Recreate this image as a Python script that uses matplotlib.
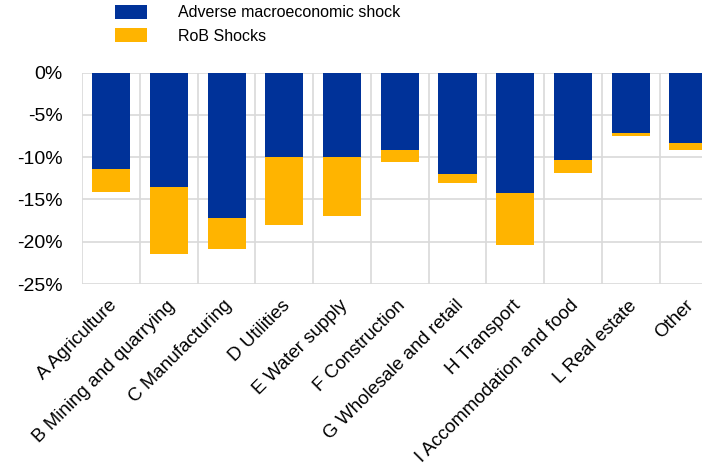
import matplotlib
matplotlib.use("Agg")
import matplotlib.pyplot as plt
from matplotlib.ticker import FuncFormatter, MultipleLocator
from matplotlib.transforms import ScaledTranslation

plt.rcParams['font.family'] = ['Liberation Sans', 'DejaVu Sans']

sectors = [
    "A Agriculture", "B Mining and quarrying", "C Manufacturing", "D Utilities",
    "E Water supply", "F Construction", "G Wholesale and retail", "H Transport",
    "I Accommodation and food", "L Real estate", "Other",
]
# Impact in percent (negative values)
macro_shock = [-11.4, -13.5, -17.15, -9.95, -9.95, -9.15, -12.0, -14.25, -10.35, -7.1, -8.3]
rob_shock = [-2.7, -8.0, -3.65, -8.05, -7.05, -1.4, -1.05, -6.15, -1.5, -0.4, -0.9]

blue = "#003299"
orange = "#FFB400"
grid_col = "#d9d9d9"

fig = plt.figure(figsize=(7.02, 4.65), dpi=100)
ax = fig.add_axes([82.3 / 702, (465 - 284) / 465, 635 / 702, (284 - 72.7) / 465])

x = list(range(len(sectors)))
w = 0.66
ax.bar(x, macro_shock, width=w, color=blue, zorder=3, label="Adverse macroeconomic shock")
ax.bar(x, rob_shock, width=w, bottom=macro_shock, color=orange, zorder=3, label="RoB Shocks")

ax.set_xlim(-0.5, len(sectors) - 0.5)
ax.set_ylim(-25, 0)
ax.yaxis.set_major_locator(MultipleLocator(5))
ax.yaxis.set_major_formatter(FuncFormatter(lambda v, p: f"{v:.0f}%"))

# gridlines: horizontal at every 5%, vertical at category boundaries
for v in range(-25, 1, 5):
    ax.axhline(v, color=grid_col, lw=1.2, zorder=1)
for b in range(len(sectors) + 1):
    ax.axvline(b - 0.5, color=grid_col, lw=1.2, zorder=1)

for s in ax.spines.values():
    s.set_visible(False)

ax.set_xticks(x)
ax.set_xticklabels(sectors, rotation=45, ha="right", va="top",
                   rotation_mode="anchor", fontsize=13.5)
ax.tick_params(axis="x", length=0, pad=9.5)
ax.tick_params(axis="y", length=0, pad=14, labelsize=14)
shift = ScaledTranslation(-3 / 100, 0, fig.dpi_scale_trans)
for lab in ax.get_xticklabels():
    lab.set_transform(lab.get_transform() + shift)

handles, labels = ax.get_legend_handles_labels()
fig.legend(handles, labels, loc="upper left", bbox_to_anchor=(115 / 702, 1 - 5 / 465),
           frameon=False, fontsize=11.5, handlelength=2.0, handleheight=0.95,
           handletextpad=1.95, labelspacing=0.5, borderaxespad=0, borderpad=0)

fig.savefig("out.png", dpi=100)
